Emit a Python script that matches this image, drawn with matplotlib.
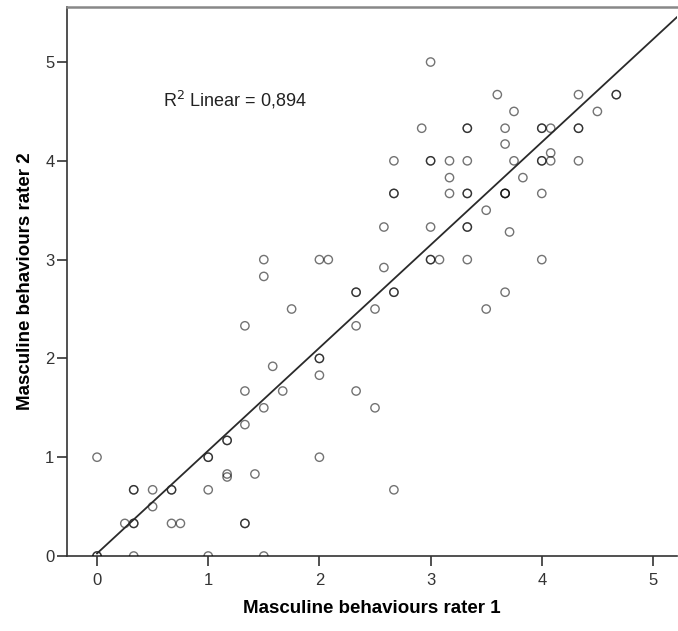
import numpy as np
import matplotlib
matplotlib.use("Agg")
import matplotlib.pyplot as plt

plt.rcParams['font.family'] = ['Liberation Sans', 'DejaVu Sans']

# Masculine behaviours scores (duplicated pairs appear as darker circles)
rater1 = [0, 0, 0, 0.25, 0.33, 0.33, 0.33, 0.33, 0.33, 0.5, 0.5,
          0.67, 0.67, 0.67, 0.75, 1, 1, 1, 1, 1.17, 1.17, 1.17, 1.17,
          1.33, 1.33, 1.33, 1.33, 1.33, 1.42, 1.5, 1.5, 1.5, 1.5, 1.58, 1.67, 1.75,
          2, 2, 2, 2, 2, 2.08, 2.33, 2.33, 2.33, 2.33, 2.5, 2.5, 2.58, 2.58,
          2.67, 2.67, 2.67, 2.67, 2.67, 2.67, 2.92, 3, 3, 3, 3, 3, 3, 3.08,
          3.17, 3.17, 3.17, 3.33, 3.33, 3.33, 3.33, 3.33, 3.33, 3.33, 3.33,
          3.5, 3.5, 3.6, 3.67, 3.67, 3.67, 3.67, 3.67, 3.67, 3.71, 3.75, 3.75, 3.83,
          4, 4, 4, 4, 4, 4, 4.08, 4.08, 4.08, 4.33, 4.33, 4.33, 4.33, 4.5, 4.67, 4.67]
rater2 = [0, 0, 1, 0.33, 0.67, 0.67, 0.33, 0.33, 0, 0.67, 0.5,
          0.67, 0.67, 0.33, 0.33, 1, 1, 0.67, 0, 1.17, 1.17, 0.83, 0.8,
          2.33, 1.67, 1.33, 0.33, 0.33, 0.83, 3, 2.83, 1.5, 0, 1.92, 1.67, 2.5,
          3, 2, 2, 1.83, 1, 3, 2.67, 2.67, 2.33, 1.67, 2.5, 1.5, 3.33, 2.92,
          4, 3.67, 3.67, 2.67, 2.67, 0.67, 4.33, 5, 4, 4, 3.33, 3, 3, 3,
          4, 3.83, 3.67, 4.33, 4.33, 4, 3.67, 3.67, 3.33, 3.33, 3,
          3.5, 2.5, 4.67, 4.33, 4.17, 3.67, 3.67, 3.67, 2.67, 3.28, 4.5, 4, 3.83,
          4.33, 4.33, 4, 4, 3.67, 3, 4.33, 4.08, 4, 4.67, 4.33, 4.33, 4, 4.5, 4.67, 4.67]

x_ticks = [0, 1, 2, 3, 4, 5]
y_ticks = [0, 1, 2, 3, 4, 5]
r2_label = "R$^2$ Linear = 0,894"
x_label = "Masculine behaviours rater 1"
y_label = "Masculine behaviours rater 2"

x = np.array(rater1)
y = np.array(rater2)

fig = plt.figure(figsize=(6.78, 6.31), dpi=100)
ax = fig.add_axes([67/678, 75/631, 610/678, 549/631])

ax.scatter(x, y, s=36, facecolors='none', edgecolors=(0, 0, 0, 0.55),
           linewidths=1.0, zorder=3)

xmin, xmax = -0.27, 5.216
slope, intercept = np.polyfit(x, y, 1)
xs = np.array([0.0, xmax])
ax.plot(xs, intercept + slope * xs, color='#2a2a2a', lw=1.3, zorder=4)

ax.set_xlim(xmin, xmax)
ax.set_ylim(0, 5.557)
ax.set_xticks(x_ticks)
ax.set_yticks(y_ticks)
ax.tick_params(axis='both', direction='out', length=7, width=1.2, color='#333333',
               labelsize=12, labelcolor='#333333')
ax.tick_params(axis='x', pad=5)
ax.tick_params(axis='y', pad=2)

for s in ['left', 'bottom']:
    ax.spines[s].set_color('#333333')
    ax.spines[s].set_linewidth(1.2)
ax.spines['top'].set_color('#888888')
ax.spines['top'].set_linewidth(1.8)
ax.spines['right'].set_visible(False)

ax.text(0.59, 4.62, r2_label, fontsize=13, color='#222222', va='center', ha='left')

ax.set_xlabel(x_label, fontsize=13.5, fontweight='bold', labelpad=9)
ax.set_ylabel(y_label, fontsize=13.5, fontweight='bold', labelpad=8)

fig.savefig("out.png", dpi=100)
